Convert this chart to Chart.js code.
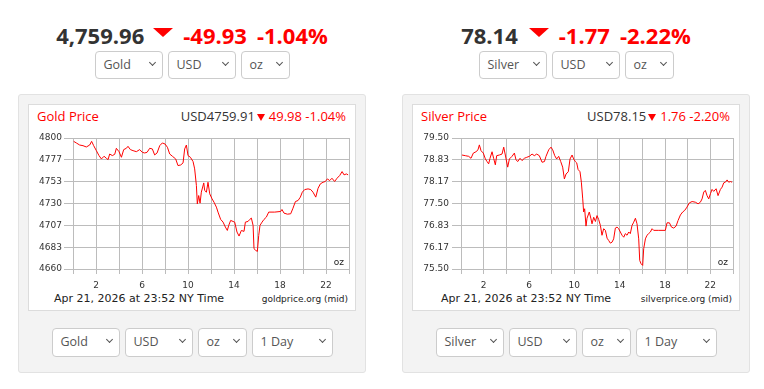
<!DOCTYPE html>
<html>
<head>
<meta charset="utf-8">
<script src="https://cdn.jsdelivr.net/npm/chart.js@4.4.1/dist/chart.umd.min.js"></script>
<style>
  body { margin: 0; background: #fff; font-family: "Open Sans", sans-serif; width: 764px; height: 389px; overflow: hidden; position: relative; }
  .col { position: absolute; top: 0; width: 348px; height: 389px; }
  .head { position: absolute; top: 20px; left: 0; width: 100%; height: 30px; display: flex; justify-content: center; font-weight: 700; font-size: 22px; line-height: 30px; color: #333; }
  .head .red { color: #f00; }
  .tri { width: 0; height: 0; border-left: 10px solid transparent; border-right: 10px solid transparent; border-top: 9px solid #f00; margin: 8px 10px 0 9px; }
  .selrow { position: absolute; left: 0; width: 100%; display: flex; justify-content: center; gap: 5px; }
  .sel { position: relative; box-sizing: border-box; height: 28px; border: 1px solid #ccc; border-radius: 4px; background: #fff; color: #555; font-size: 12.5px; line-height: 26px; padding-left: 8px; }
  .sel::after { content: ""; position: absolute; right: 7px; top: 8px; width: 4px; height: 4px; border-right: 1.8px solid #555; border-bottom: 1.8px solid #555; transform: rotate(45deg); }
  .box { position: absolute; left: 0; top: 94px; width: 348px; height: 279px; box-sizing: border-box; background: #f3f3f3; border: 1px solid #e2e2e2; border-radius: 3px; }
  .inner { position: absolute; left: 9px; top: 9px; width: 328px; height: 207px; box-sizing: border-box; background: #fff; border: 1px solid #dcdcdc; }
  .title { position: absolute; top: 107px; left: 19px; font-size: 13px; line-height: 18px; color: #f00; }
  .quote { position: absolute; top: 107px; right: 20px; font-size: 13px; line-height: 18px; color: #f00; }
  .quote .usd { color: #333; }
  .mini { display: inline-block; width: 0; height: 0; border-left: 4px solid transparent; border-right: 4px solid transparent; border-top: 7px solid #f00; margin: 0 4px 0 2px; }
  canvas { position: absolute; left: 10px; top: 127px; }
  .stamp { position: absolute; top: 292px; font-family: "DejaVu Sans", sans-serif; font-size: 11px; line-height: 13px; color: #222; }
  .src { position: absolute; top: 294px; right: 18px; font-family: "DejaVu Sans", sans-serif; font-size: 9px; line-height: 11px; color: #222; }
</style>
</head>
<body>

<div class="col" style="left:18px">
  <div class="head"><span>4,759.96</span><span class="tri"></span><span class="red">-49.93</span><span class="red" style="margin-left:10px">-1.04%</span></div>
  <div class="selrow" style="top:51px">
    <div class="sel" style="width:68px">Gold</div>
    <div class="sel" style="width:68px">USD</div>
    <div class="sel" style="width:49px">oz</div>
  </div>
  <div class="box"><div class="inner"></div></div>
  <div class="title">Gold Price</div>
  <div class="quote"><span class="usd">USD4759.91</span><span class="mini"></span>49.98 -1.04%</div>
  <canvas id="goldChart" width="328" height="164"></canvas>
  <div class="stamp" style="left:36px">Apr 21, 2026 at 23:52 NY Time</div>
  <div class="src">goldprice.org (mid)</div>
  <div class="selrow" style="top:328px">
    <div class="sel" style="width:68px;height:29px">Gold</div>
    <div class="sel" style="width:68px;height:29px">USD</div>
    <div class="sel" style="width:49px;height:29px">oz</div>
    <div class="sel" style="width:81px;height:29px">1 Day</div>
  </div>
</div>

<div class="col" style="left:402px">
  <div class="head"><span>78.14</span><span class="tri" style="margin-left:11px"></span><span class="red">-1.77</span><span class="red" style="margin-left:10px">-2.22%</span></div>
  <div class="selrow" style="top:51px">
    <div class="sel" style="width:68px">Silver</div>
    <div class="sel" style="width:68px">USD</div>
    <div class="sel" style="width:49px">oz</div>
  </div>
  <div class="box"><div class="inner"></div></div>
  <div class="title">Silver Price</div>
  <div class="quote"><span class="usd">USD78.15</span><span class="mini"></span>1.76 -2.20%</div>
  <canvas id="silverChart" width="328" height="164"></canvas>
  <div class="stamp" style="left:39px">Apr 21, 2026 at 23:52 NY Time</div>
  <div class="src">silverprice.org (mid)</div>
  <div class="selrow" style="top:328px">
    <div class="sel" style="width:68px;height:29px">Silver</div>
    <div class="sel" style="width:68px;height:29px">USD</div>
    <div class="sel" style="width:49px;height:29px">oz</div>
    <div class="sel" style="width:81px;height:29px">1 Day</div>
  </div>
</div>

<script>
// hours (NY time) with a label under the x axis
const hourLabels = [2, 6, 10, 14, 18, 22];

const goldHours = [
  0.06, 0.29, 0.58, 0.87, 1.16, 1.45, 1.62, 1.80, 2.03, 2.26, 2.47, 2.70, 2.90, 3.05, 3.19, 3.42,
  3.63, 3.77, 4.00, 4.21, 4.41, 4.64, 4.78, 4.99, 5.22, 5.51, 5.80, 6.03, 6.23, 6.44, 6.67, 6.90,
  7.10, 7.31, 7.54, 7.77, 8.00, 8.21, 8.41, 8.64, 8.93, 9.13, 9.37, 9.57, 9.71, 9.86, 10.00, 10.21,
  10.44, 10.58, 10.73, 10.81, 10.93, 11.05, 11.16, 11.37, 11.45, 11.60, 11.74, 11.89, 12.09, 12.26,
  12.47, 12.61, 12.84, 13.05, 13.25, 13.42, 13.54, 13.71, 13.92, 14.06, 14.26, 14.44, 14.64, 14.87,
  14.99, 15.22, 15.37, 15.51, 15.66, 15.74, 15.89, 16.03, 16.15, 16.26, 16.44, 16.61, 16.81, 17.02,
  17.54, 18.06, 18.17, 18.35, 18.64, 18.93, 19.13, 19.34, 19.57, 19.77, 19.94, 20.15, 20.44, 20.67,
  20.87, 21.11, 21.31, 21.51, 21.74, 21.94, 22.12, 22.32, 22.52, 22.75, 22.96, 23.19, 23.40, 23.57,
  23.77, 23.92
];
const goldPrices = [
  4796.4, 4794.7, 4792.5, 4791.8, 4790.4, 4792.5, 4796.4, 4791.8, 4786.5, 4781.2, 4777.6, 4780.5, 4778.3, 4776.9, 4782.9, 4781.2,
  4782.6, 4789.0, 4785.4, 4779.4, 4787.6, 4789.0, 4791.1, 4787.6, 4786.5, 4785.4, 4787.6, 4784.7, 4784.0, 4784.7, 4789.0, 4788.3,
  4781.9, 4784.0, 4791.8, 4794.7, 4793.6, 4790.1, 4782.9, 4780.5, 4777.6, 4770.5, 4771.2, 4773.4, 4788.3, 4792.5, 4781.2, 4779.4,
  4774.8, 4767.0, 4749.2, 4729.6, 4738.5, 4730.4, 4742.1, 4752.0, 4743.9, 4742.1, 4752.7, 4740.3, 4735.0, 4731.4,
  4726.1, 4720.8, 4713.0, 4710.1, 4704.8, 4701.2, 4706.6, 4711.9, 4710.8, 4710.1, 4699.5, 4695.2, 4701.2, 4700.2,
  4710.1, 4710.8, 4713.0, 4714.4, 4706.6, 4681.7, 4679.9, 4678.8, 4695.9, 4706.6, 4710.1, 4713.0, 4715.4, 4720.8,
  4720.8, 4721.5, 4723.6, 4719.7, 4718.6, 4719.0, 4725.0, 4732.1, 4733.2, 4736.8, 4742.1, 4744.9, 4745.6, 4744.9,
  4742.1, 4736.8, 4746.3, 4751.0, 4752.7, 4753.5, 4756.3, 4754.5, 4757.0, 4753.5, 4757.0, 4759.9, 4764.1, 4760.6,
  4761.6, 4760.6
];
const goldTickLabels = ["4660", "4683", "4707", "4730", "4753", "4777", "4800"];

const silverHours = [
  0.09, 0.38, 0.68, 0.88, 1.09, 1.32, 1.50, 1.62, 1.77, 1.97, 2.15, 2.30, 2.44, 2.56, 2.74, 2.88,
  3.03, 3.15, 3.38, 3.62, 3.77, 3.91, 4.12, 4.27, 4.50, 4.71, 4.85, 5.00, 5.21, 5.38, 5.59, 5.80,
  6.03, 6.27, 6.47, 6.68, 6.91, 7.15, 7.36, 7.50, 7.74, 7.94, 8.09, 8.27, 8.44, 8.62, 8.80, 8.97,
  9.12, 9.27, 9.47, 9.62, 9.80, 9.94, 10.09, 10.21, 10.33, 10.50, 10.62, 10.74, 10.82, 10.91, 11.03, 11.12,
  11.32, 11.47, 11.56, 11.71, 11.86, 12.00, 12.15, 12.30, 12.44, 12.59, 12.74, 12.89, 13.03, 13.18, 13.33, 13.47,
  13.62, 13.77, 13.91, 14.06, 14.21, 14.36, 14.50, 14.65, 14.80, 14.94, 15.09, 15.24, 15.39, 15.53, 15.68, 15.77,
  15.89, 16.03, 16.12, 16.27, 16.41, 16.56, 16.71, 16.86, 17.00, 17.45, 18.03, 18.18, 18.39, 18.57, 18.77, 18.98,
  19.15, 19.36, 19.56, 19.74, 19.94, 20.15, 20.39, 20.68, 20.92, 21.12, 21.27, 21.42, 21.56, 21.71, 21.86, 22.01,
  22.15, 22.30, 22.51, 22.68, 22.89, 23.04, 23.18, 23.33, 23.48, 23.62, 23.77, 23.92
];
const silverPrices = [
  78.98, 78.96, 78.94, 78.88, 79.04, 79.08, 79.14, 79.29, 79.11, 79.04, 78.86, 78.78, 78.71, 78.88, 79.08, 78.88,
  78.68, 78.96, 78.98, 79.01, 79.22, 78.98, 78.61, 78.86, 78.94, 79.04, 78.84, 78.78, 78.88, 78.81, 78.88, 78.91,
  78.94, 79.01, 78.96, 79.01, 78.96, 78.76, 78.78, 78.94, 79.14, 79.22, 79.14, 78.96, 78.86, 78.94, 78.78, 78.61,
  78.25, 78.40, 78.47, 78.86, 78.98, 78.86, 78.78, 78.74, 78.54, 78.47, 78.15, 77.64, 77.24, 77.34, 76.81, 77.05,
  77.24, 77.03, 76.88, 77.08, 76.95, 77.13, 77.01, 76.83, 76.53, 76.73, 76.68, 76.44, 76.37, 76.29, 76.32, 76.42,
  76.75, 76.78, 76.73, 76.63, 76.53, 76.47, 76.58, 76.53, 76.63, 76.58, 76.83, 76.93, 77.05, 76.88, 76.42, 75.76,
  75.66, 75.61, 76.12, 76.42, 76.53, 76.58, 76.63, 76.73, 76.68, 76.68, 76.68, 76.91, 76.91, 76.78, 76.75, 76.81,
  76.98, 77.15, 77.24, 77.29, 77.39, 77.52, 77.56, 77.54, 77.49, 77.54, 77.64, 77.85, 77.90, 77.74, 77.64, 77.80,
  77.93, 77.87, 77.95, 77.74, 77.93, 78.00, 78.13, 78.15, 78.22, 78.15, 78.17, 78.15
];
const silverTickLabels = ["75.50", "76.17", "76.83", "77.50", "78.17", "78.83", "79.50"];

Chart.defaults.font.family = '"DejaVu Sans", sans-serif';
Chart.defaults.font.size = 9;
Chart.defaults.color = "#333";

// small "oz" unit in the bottom right corner of the plot
const ozLabel = {
  id: "ozLabel",
  afterDraw(chart) {
    const { ctx, chartArea } = chart;
    ctx.save();
    ctx.font = '9px "DejaVu Sans"';
    ctx.fillStyle = "#222";
    ctx.textAlign = "right";
    ctx.textBaseline = "middle";
    ctx.fillText("oz", chartArea.right - 5, chartArea.bottom - 6.5);
    ctx.restore();
  },
};

const drawChart = (id, hours, prices, tickLabels, axisWidth, labelPad) => {
  const min = parseFloat(tickLabels[0]);
  const max = parseFloat(tickLabels[tickLabels.length - 1]);
  const gridColor = "#bcbcbc";
  return new Chart(document.getElementById(id), {
    type: "line",
    data: {
      datasets: [
        {
          data: hours.map((h, i) => ({ x: h, y: prices[i] })),
          borderColor: "#ff0000",
          borderWidth: 1,
          pointRadius: 0,
          tension: 0,
        },
      ],
    },
    options: {
      responsive: false,
      animation: false,
      layout: { padding: { top: 11, right: 7, left: 0, bottom: 0 } },
      plugins: { legend: { display: false }, tooltip: { enabled: false } },
      scales: {
        x: {
          type: "linear",
          min: 0,
          max: 24,
          afterFit: (s) => { s.height = 22; },
          grid: { color: gridColor, tickLength: 5 },
          border: { color: gridColor },
          ticks: {
            stepSize: 2,
            autoSkip: false,
            maxRotation: 0,
            padding: 6,
            callback: (v) => (hourLabels.includes(v) ? String(v) : ""),
          },
        },
        y: {
          min: min,
          max: max,
          afterFit: (s) => { s.width = axisWidth; },
          afterBuildTicks: (s) => {
            s.ticks = tickLabels.map((t, i) => ({ value: min + ((max - min) * i) / (tickLabels.length - 1) }));
          },
          grid: { color: gridColor, tickLength: 9 },
          border: { color: gridColor },
          ticks: { padding: labelPad, callback: (v, i) => tickLabels[i] },
        },
      },
    },
    plugins: [ozLabel],
  });
};

drawChart("goldChart", goldHours, goldPrices, goldTickLabels, 45, 2);
drawChart("silverChart", silverHours, silverPrices, silverTickLabels, 49, 3);
</script>
</body>
</html>
